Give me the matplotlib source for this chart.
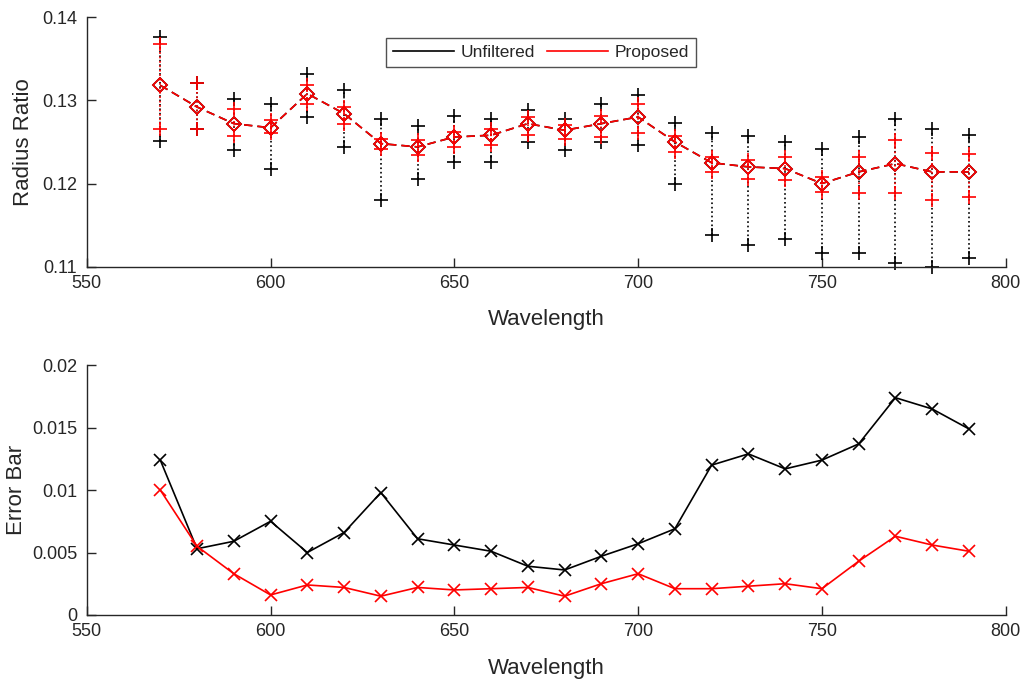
import matplotlib
matplotlib.use("Agg")
import matplotlib.pyplot as plt
from matplotlib.ticker import FixedLocator

plt.rcParams['font.family'] = ['Liberation Sans', 'DejaVu Sans']

wavelength = [570, 580, 590, 600, 610, 620, 630, 640, 650, 660, 670, 680,
              690, 700, 710, 720, 730, 740, 750, 760, 770, 780, 790]

unf_mean = [0.1318, 0.1292, 0.1272, 0.1267, 0.1308, 0.1284, 0.1248, 0.1244,
            0.1256, 0.1258, 0.1272, 0.1264, 0.1272, 0.1280, 0.1250, 0.1225,
            0.1220, 0.1218, 0.1200, 0.1214, 0.1224, 0.1214, 0.1214]
prop_mean = list(unf_mean)

unf_upper = [0.1376, 0.1321, 0.1301, 0.1296, 0.1332, 0.1312, 0.1278, 0.1269,
             0.1281, 0.1278, 0.1288, 0.1278, 0.1296, 0.1306, 0.1273, 0.1261,
             0.1257, 0.1250, 0.1241, 0.1256, 0.1278, 0.1266, 0.1258]
unf_lower = [0.1251, 0.1266, 0.1240, 0.1218, 0.1280, 0.1244, 0.1180, 0.1206,
             0.1226, 0.1226, 0.1250, 0.1240, 0.1250, 0.1246, 0.1200, 0.1138,
             0.1126, 0.1133, 0.1116, 0.1117, 0.1104, 0.1100, 0.1110]

prop_upper = [0.1368, 0.1321, 0.1290, 0.1276, 0.1318, 0.1292, 0.1254, 0.1252,
              0.1262, 0.1266, 0.1280, 0.1270, 0.1281, 0.1296, 0.1257, 0.1232,
              0.1228, 0.1232, 0.1208, 0.1232, 0.1252, 0.1237, 0.1236]
prop_lower = [0.1266, 0.1266, 0.1257, 0.1261, 0.1296, 0.1272, 0.1241, 0.1234,
              0.1244, 0.1246, 0.1258, 0.1254, 0.1256, 0.1261, 0.1238, 0.1214,
              0.1206, 0.1204, 0.1190, 0.1189, 0.1189, 0.1180, 0.1184]

unf_err = [0.0124, 0.0053, 0.0059, 0.0075, 0.0050, 0.0066, 0.0098, 0.0061,
           0.0056, 0.0051, 0.0039, 0.0036, 0.0047, 0.0057, 0.0069, 0.0120,
           0.0129, 0.0117, 0.0124, 0.0137, 0.0174, 0.0165, 0.0149]
prop_err = [0.0100, 0.0055, 0.0033, 0.0016, 0.0024, 0.0022, 0.0015, 0.0022,
            0.0020, 0.0021, 0.0022, 0.0015, 0.0025, 0.0033, 0.0021, 0.0021,
            0.0023, 0.0025, 0.0021, 0.0043, 0.0063, 0.0056, 0.0051]

top_yticks = [0.11, 0.12, 0.13, 0.14]
top_yticklabels = ['0.11', '0.12', '0.13', '0.14']
bot_yticks = [0, 0.005, 0.01, 0.015, 0.02]
bot_yticklabels = ['0', '0.005', '0.01', '0.015', '0.02']
xticks = [550, 600, 650, 700, 750, 800]
xticklabels = ['550', '600', '650', '700', '750', '800']

AX_COLOR = '#262626'
TICK_FS = 13
LABEL_FS = 16

fig = plt.figure(figsize=(10.21, 6.84), dpi=100)
ax1 = fig.add_axes([0.085, 0.610, 0.900, 0.365])
ax2 = fig.add_axes([0.085, 0.101, 0.900, 0.365])


def style(ax):
    for s in ['top', 'right']:
        ax.spines[s].set_visible(False)
    for s in ['left', 'bottom']:
        ax.spines[s].set_color(AX_COLOR)
        ax.spines[s].set_linewidth(1.0)
    ax.tick_params(direction='in', length=6.5, width=1.0, color=AX_COLOR,
                   labelsize=TICK_FS, labelcolor=AX_COLOR)
    ax.tick_params(axis='y', pad=7)
    ax.tick_params(axis='x', pad=6)
    ax.xaxis.set_major_locator(FixedLocator(xticks))
    ax.set_xticklabels(xticklabels)
    ax.set_xlim(550, 800)
    ax.set_xlabel('Wavelength', fontsize=LABEL_FS, color=AX_COLOR, labelpad=12.5)


dash = (0, (5, 3))
# unfiltered error bars
ax1.vlines(wavelength, unf_lower, unf_upper, colors='black', linestyles=':', linewidth=1.2)
ax1.plot(wavelength, unf_upper, '+', color='black', markersize=10, mew=1.2, clip_on=False, ls='none')
ax1.plot(wavelength, unf_lower, '+', color='black', markersize=10, mew=1.2, clip_on=False, ls='none')
ax1.plot(wavelength, unf_mean, color='black', linestyle=dash, linewidth=1.2,
         marker='D', markersize=7, markerfacecolor='none', markeredgewidth=1.2)
# proposed error bars
ax1.vlines(wavelength, prop_lower, prop_upper, colors='red', linestyles=':', linewidth=1.2)
ax1.plot(wavelength, prop_upper, '+', color='red', markersize=10, mew=1.2, clip_on=False, ls='none')
ax1.plot(wavelength, prop_lower, '+', color='red', markersize=10, mew=1.2, clip_on=False, ls='none')
ax1.plot(wavelength, prop_mean, color='red', linestyle=dash, linewidth=1.2,
         marker='D', markersize=7, markerfacecolor='none', markeredgewidth=1.2)

style(ax1)
ax1.set_ylim(0.11, 0.14)
ax1.yaxis.set_major_locator(FixedLocator(top_yticks))
ax1.set_yticklabels(top_yticklabels)
ax1.set_ylabel('Radius Ratio', fontsize=LABEL_FS, color=AX_COLOR, labelpad=5.5)

h1, = ax1.plot([], [], color='black', linewidth=1.2, label='Unfiltered')
h2, = ax1.plot([], [], color='red', linewidth=1.2, label='Proposed')
leg = fig.legend(handles=[h1, h2], loc='center', bbox_to_anchor=(0.530, 0.923),
                 ncol=2, fontsize=12.5, frameon=True, fancybox=False,
                 handlelength=3.5, handletextpad=0.4, columnspacing=0.65,
                 borderpad=0.4)
leg.get_frame().set_edgecolor(AX_COLOR)
leg.get_frame().set_linewidth(1.0)
for t in leg.get_texts():
    t.set_color(AX_COLOR)

ax2.plot(wavelength, unf_err, color='black', linewidth=1.2, marker='x',
         markersize=9, markeredgewidth=1.2)
ax2.plot(wavelength, prop_err, color='red', linewidth=1.2, marker='x',
         markersize=9, markeredgewidth=1.2)
style(ax2)
ax2.set_ylim(0, 0.02)
ax2.yaxis.set_major_locator(FixedLocator(bot_yticks))
ax2.set_yticklabels(bot_yticklabels)
ax2.set_ylabel('Error Bar', fontsize=LABEL_FS, color=AX_COLOR, labelpad=3.5)

fig.savefig('out.png', dpi=100)
